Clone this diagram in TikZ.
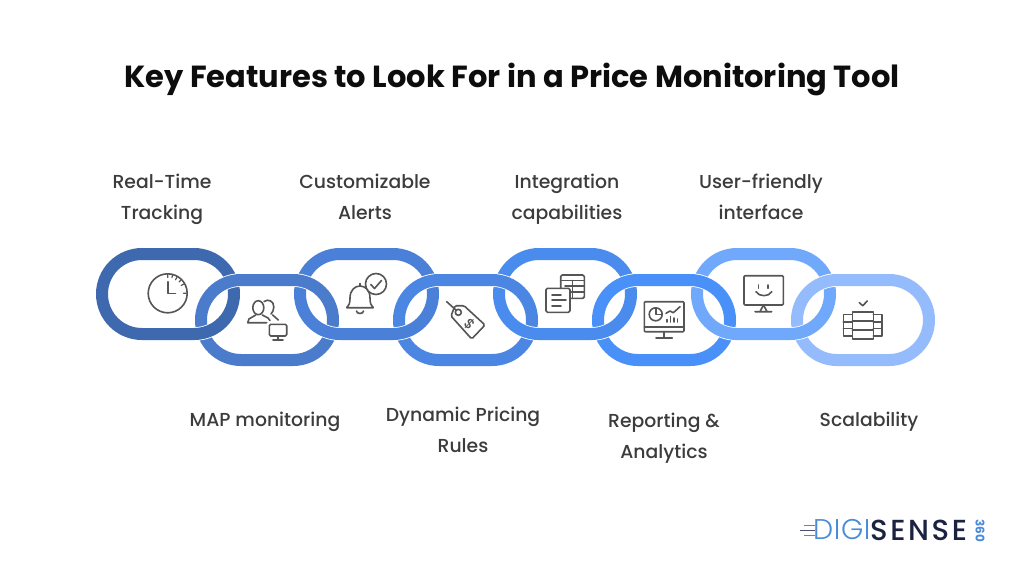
\documentclass[tikz,border=0pt]{standalone}
\usepackage{fontspec}
\setmainfont{Poppins}
\newfontfamily\labelfont{Poppins Medium}
\newfontfamily\logofont{Poppins Light}[LetterSpace=2]
\newfontfamily\logobold{Poppins Medium}[LetterSpace=9]
\definecolor{ringA}{HTML}{3F69AE}
\definecolor{ringB}{HTML}{4A7CCB}
\definecolor{ringC}{HTML}{4A80D8}
\definecolor{ringD}{HTML}{4A86E2}
\definecolor{ringE}{HTML}{4A8BEE}
\definecolor{ringF}{HTML}{4A90F9}
\definecolor{ringG}{HTML}{70A8FB}
\definecolor{ringH}{HTML}{94BBFC}
\definecolor{icongray}{HTML}{555555}
\definecolor{labelgray}{HTML}{3C3C3C}
\definecolor{logoblue}{HTML}{4A8BD8}
\definecolor{logonavy}{HTML}{1C2340}

\begin{document}
\begin{tikzpicture}[x=1pt,y=-1pt]
\tikzstyle{every node}=[inner sep=0pt]
\tikzstyle{ring}=[line width=12pt,rounded corners=40pt,preaction={draw=white,line width=13.6pt}]
\tikzstyle{icon}=[draw=icongray,line width=1.6pt,line cap=round,line join=round]
\tikzstyle{feature}=[font=\labelfont\fontsize{18.8}{31}\selectfont,text=labelgray,align=center]

\useasboundingbox (0,0) rectangle (1024,574);

\node (title) at (512,79.5) [font=\bfseries\fontsize{30.5}{38}\selectfont,text=black!95] {Key Features to Look For in a Price Monitoring Tool};

% even links first, then odd ones
\draw[ring,draw=ringB] (201,280) rectangle (333,360);
\draw[ring,draw=ringD] (399,280) rectangle (532,360);
\draw[ring,draw=ringF] (598,280) rectangle (730,360);
\draw[ring,draw=ringH] (797,280) rectangle (929,360);

\draw[ring,draw=ringA] (102,254) rectangle (234,334);
\draw[ring,draw=ringC] (300,254) rectangle (433,334);
\draw[ring,draw=ringE] (499,254) rectangle (631,334);
\draw[ring,draw=ringG] (697,254) rectangle (830,334);

% top halves of the even links go over again
\begin{scope}
\clip (0,0) rectangle (1024,307);
\draw[ring,draw=ringB] (201,280) rectangle (333,360);
\draw[ring,draw=ringD] (399,280) rectangle (532,360);
\draw[ring,draw=ringF] (598,280) rectangle (730,360);
\draw[ring,draw=ringH] (797,280) rectangle (929,360);
\end{scope}

% clock
\draw[icon] (167.7,293.3) circle (19.5);
\draw[icon] (167.7,281.7) -- (167.7,293.3) -- (175.5,293.3);
\draw[icon,line width=1.2pt] (167.7,274.5) -- (167.7,277.5) (177,277.2) -- (175.5,279.8) (183.8,284) -- (181.2,285.5) (186.5,293.3) -- (183.5,293.3) (172.5,275.2) -- (172,277.5) (180.8,280.2) -- (179,282);

% users and screen
\draw[icon] (258.3,307.7) ellipse (5.5 and 7);
\draw[icon] (255.7,315) -- (249,319) -- (247.7,322.7) -- (266.7,322.7) (262.3,315) -- (268,318) -- (270,320.5);
\draw[icon] (264,301.5) .. controls (268,298.5) and (274,301) .. (273.8,307) .. controls (273.8,310) and (272.5,312.5) .. (271,314);
\draw[icon] (272.7,315) -- (278.3,320);
\draw[icon,fill=white,rounded corners=1.5pt] (269.3,324.3) rectangle (286.7,336);
\draw[icon] (278,336) -- (278,339.5) (273,340) -- (283,340);

% bell with check
\draw[icon] (346.7,307.7) .. controls (349,306) and (350,303) .. (350,298) .. controls (350,290) and (355,286) .. (360,286) .. controls (365,286) and (370,290) .. (370,298) .. controls (370,303) and (371,306) .. (373.3,307.7) -- cycle;
\draw[icon] (360,286) -- (360,283.5);
\draw[icon] (356.5,311) arc (180:0:3.5 and 2.5);
\draw[icon,fill=white] (376,284) circle (10.5);
\draw[icon] (370.8,284.5) -- (374.5,288.5) -- (381.5,280.5);

% price tag
\draw[icon] (446.7,301.7) -- (456.3,310.3);
\draw[icon,rounded corners=1.5pt] (455,305.7) -- (464,305.7) -- (485,325) -- (471.7,339) -- (451,316) -- cycle;
\draw[icon] (458.3,312.3) circle (3);
\node (dollar) at (469.5,324.5) [rotate=-45,font=\labelfont\fontsize{14}{14}\selectfont,text=icongray] {\$};

% table and note
\draw[icon,rounded corners=1.5pt] (560.7,288) -- (560.7,275) -- (584.3,275) -- (584.3,298.3) -- (570.5,298.3);
\draw[icon] (560.7,280.5) -- (584.3,280.5) (565,286) -- (584.3,286) (571,292) -- (584.3,292) (572.5,280.5) -- (572.5,298.3);
\draw[icon,fill=white,rounded corners=1.5pt] (546,288.3) rectangle (570,312.3);
\draw[icon] (552,295) -- (561,295) (552,300) -- (566,300) (552,306) -- (561,306);

% dashboard
\draw[icon,rounded corners=1pt] (644.3,301.7) rectangle (684,331.7);
\draw[icon] (644.3,326.7) -- (684,326.7) (664,331.7) -- (664,337.5) (656,337.7) -- (672.3,337.7);
\draw[icon] (655.7,314.3) circle (6.5);
\draw[icon] (655.7,307.8) -- (655.7,314.3) -- (662.2,314.3);
\draw[icon] (666,313.3) -- (670,311) -- (673.3,312.7) -- (680,306.7);
\draw[icon] (667,322) -- (667,319.5) (670.5,322) -- (670.5,316.5) (674,322) -- (674,318) (677.5,322) -- (677.5,319);

% smiling screen
\draw[icon,rounded corners=1pt] (744,275.7) rectangle (783.3,305);
\draw[icon] (763.5,305) -- (760,311.5) (763.5,305) -- (767,311.5) (755,311.7) -- (771.7,311.7);
\draw[icon] (758.3,285) -- (758.3,288.3) (767.7,285) -- (767.7,288.3);
\draw[icon] (756,291.7) .. controls (759,297) and (769,297) .. (771.7,291.7);

% server rack
\draw[icon] (859.3,302.7) -- (862.7,305.7) -- (867.3,301);
\draw[icon] (852.3,314.3) -- (843.3,314.3) -- (843.3,335.7) -- (852.3,335.7) (873.3,314.3) -- (881.7,314.3) -- (881.7,335.7) -- (873.3,335.7);
\draw[icon] (843.3,321.7) -- (852.3,321.7) (843.3,328.3) -- (852.3,328.3) (873.3,321.7) -- (881.7,321.7) (873.3,328.3) -- (881.7,328.3);
\draw[icon] (852.3,311.7) rectangle (873.3,339);
\draw[icon] (852.3,320.7) -- (873.3,320.7) (852.3,330) -- (873.3,330);

% feature labels
\node[feature] (tracking) at (162,199) {Real-Time\\Tracking};
\node[feature] (alerts) at (365,196.5) {Customizable\\Alerts};
\node[feature] (integration) at (567,199) {Integration\\capabilities};
\node[feature] (friendly) at (761,197) {User-friendly\\interface};
\node[feature] (map) at (265,422) {MAP monitoring};
\node[feature] (pricing) at (463,430) {Dynamic Pricing\\Rules};
\node[feature] (reporting) at (664,438) {Reporting \&\\Analytics};
\node[feature] (scale) at (869,422) {Scalability};

% logo
\draw[line width=1.6pt,draw=logonavy!80] (800,530.5) -- (815,530.5);
\draw[line width=1.4pt,draw=logoblue] (804,525.5) -- (815,525.5) (804,535.5) -- (815,535.5);
\node[anchor=west] (digi) at (813,530) [font=\logofont\fontsize{28.5}{28}\selectfont,text=logoblue] {DIGI};
\node[anchor=west] (sense) at (870,530) [font=\logobold\fontsize{29}{28}\selectfont,text=logonavy] {SENSE};
\node (three) at (980,530.5) [rotate=-90,font=\bfseries\fontsize{12}{12}\selectfont,text=logoblue] {360};
\end{tikzpicture}
\end{document}
